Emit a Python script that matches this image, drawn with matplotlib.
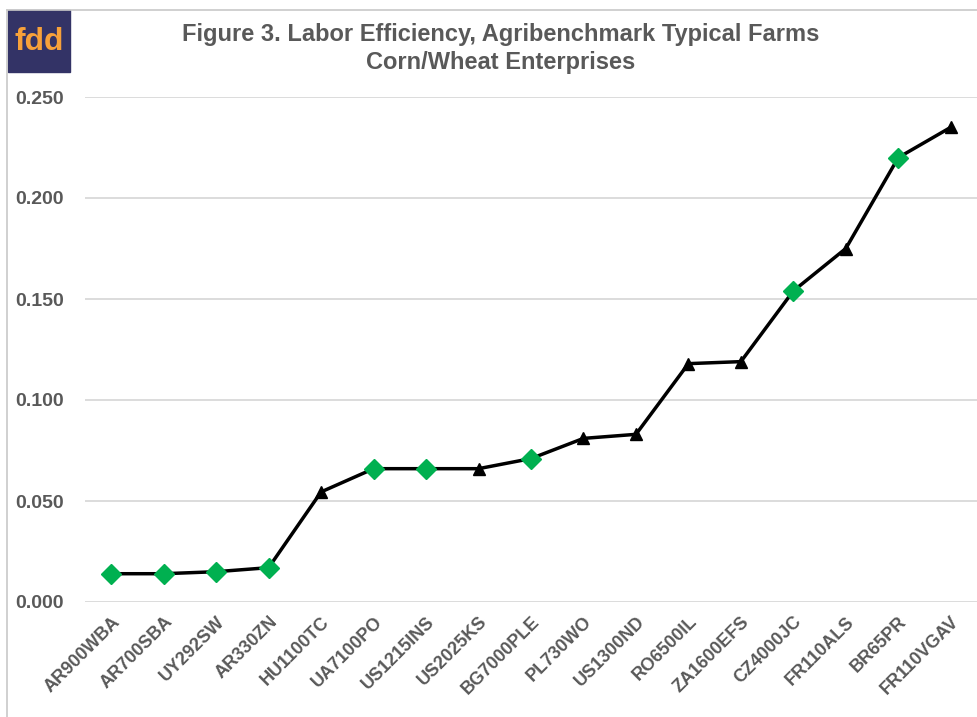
import matplotlib.pyplot as plt
from matplotlib.patches import Rectangle
from matplotlib.lines import Line2D

plt.rcParams["font.family"] = ["Liberation Sans", "DejaVu Sans"]

farms = ["AR900WBA", "AR700SBA", "UY292SW", "AR330ZN", "HU1100TC", "UA7100PO",
         "US1215INS", "US2025KS", "BG7000PLE", "PL730WO", "US1300ND", "RO6500IL",
         "ZA1600EFS", "CZ4000JC", "FR110ALS", "BR65PR", "FR110VGAV"]
efficiency = [0.014, 0.014, 0.015, 0.017, 0.0545, 0.066, 0.066, 0.066, 0.071,
              0.081, 0.083, 0.118, 0.119, 0.154, 0.175, 0.220, 0.235]
# green diamond = highlighted farm, otherwise black triangle
highlight = [True, True, True, True, False, True, True, False, True,
             False, False, False, False, True, False, True, False]
yticks = [0.0, 0.05, 0.10, 0.15, 0.20, 0.25]

gray = "#595959"
fig = plt.figure(figsize=(9.78, 7.17), dpi=100)
ax = fig.add_axes([85 / 978, 1 - 602 / 717, 892 / 978, 505 / 717])

x = list(range(len(farms)))
ax.plot(x, efficiency, color="black", lw=2.5, zorder=2)
for xi, yi, h in zip(x, efficiency, highlight):
    if h:
        ax.plot(xi, yi, marker="D", ms=10, color="#00B050", mec="#00B050", zorder=3)
    else:
        ax.plot(xi, yi, marker="^", ms=8, color="black", zorder=3)

ax.set_xlim(-0.5, len(farms) - 0.5)
ax.set_ylim(0, 0.25)
ax.set_yticks(yticks)
ax.set_yticklabels([f"{v:.3f}" for v in yticks])
ax.yaxis.grid(True, color="#d9d9d9", lw=1.3)
ax.set_axisbelow(True)
for s in ax.spines.values():
    s.set_visible(False)
ax.tick_params(length=0)
ax.tick_params(axis="y", pad=15, labelsize=14, labelcolor=gray)
ax.set_xticks(x)
ax.set_xticklabels(farms, rotation=45, ha="right", rotation_mode="anchor",
                   fontsize=13, color=gray, fontweight="bold")
for t in ax.get_yticklabels():
    t.set_fontweight("bold")
ax.tick_params(axis="x", pad=8)

# title
fig.text(0.512, 1 - 35 / 717, "Figure 3. Labor Efficiency, Agribenchmark Typical Farms",
         ha="center", va="center", fontsize=17, fontweight="bold", color=gray)
fig.text(0.512, 1 - 62 / 717, "Corn/Wheat Enterprises",
         ha="center", va="center", fontsize=17, fontweight="bold", color=gray)

# frame lines around the figure
fig.add_artist(Line2D([7 / 978, 7 / 978], [0, 1 - 10 / 717], color="#c8c8c8", lw=1.2))
fig.add_artist(Line2D([7 / 978, 1], [1 - 10 / 717, 1 - 10 / 717], color="#c8c8c8", lw=1.2))

# fdd logo
fig.add_artist(Rectangle((8 / 978, 1 - 72 / 717), 62 / 978, 62 / 717,
                         transform=fig.transFigure, color="#333366"))
fig.text(39 / 978, 1 - 42 / 717, "fdd", ha="center", va="center",
         fontsize=23, fontweight="bold", color="#F7A13A")

fig.savefig("out.png", dpi=100)
